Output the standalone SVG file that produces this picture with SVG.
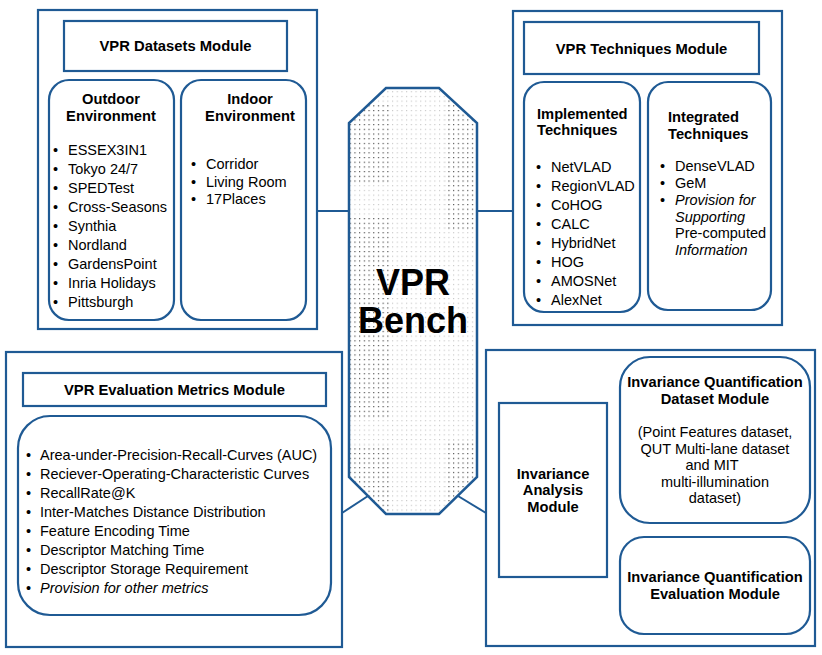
<svg xmlns="http://www.w3.org/2000/svg" width="822" height="655" viewBox="0 0 822 655">
<defs>
<pattern id="dots" width="4.7" height="4.7" patternUnits="userSpaceOnUse">
<rect x="2" y="2" width="1" height="1" fill="#b4b4b4"/>
</pattern>
<pattern id="dotsDark" width="4.7" height="4.7" patternUnits="userSpaceOnUse">
<rect x="2" y="2" width="1" height="1" fill="#333"/>
</pattern>
<clipPath id="octClip">
<polygon points="386,88 439,88 477,123 477,477 439,514 386,514 349,477 349,123"/>
</clipPath>
<style>
.box{fill:#fff;stroke:#1f5a94;stroke-width:2.2}
.ln{fill:none;stroke:#1f5a94;stroke-width:2}
text{font-family:"Liberation Sans",Arial,sans-serif;fill:#000}
.t{font-size:14.8px;font-weight:bold;text-anchor:middle}
.h{font-size:14.7px;font-weight:bold}
.li{font-size:14.5px}
.it{font-style:italic}
.c{text-anchor:middle}
</style>
</defs>
<rect width="822" height="655" fill="#fff"/>

<g id="connectors">
<line class="ln" x1="317" y1="211" x2="350" y2="211"/>
<line class="ln" x1="477" y1="211" x2="513" y2="211"/>
<line class="ln" x1="342" y1="513" x2="368" y2="496"/>
<line class="ln" x1="458" y1="496" x2="486" y2="513"/>
<line class="ln" x1="109" y1="71" x2="109" y2="80"/>
<line class="ln" x1="245" y1="71" x2="245" y2="80"/>
<line class="ln" x1="581" y1="74" x2="581" y2="82"/>
<line class="ln" x1="712" y1="74" x2="712" y2="82"/>
<line class="ln" x1="174" y1="406" x2="174" y2="416"/>
<line class="ln" x1="607" y1="425" x2="620" y2="425"/>
<line class="ln" x1="607" y1="555" x2="620" y2="555"/>
</g>

<g id="vpr-bench">
<polygon points="386,88 439,88 477,123 477,477 439,514 386,514 349,477 349,123" fill="url(#dots)" stroke="none"/>
<g clip-path="url(#octClip)">
<rect x="349" y="105" width="43" height="80" fill="url(#dotsDark)"/>
<rect x="349" y="218" width="43" height="200" fill="url(#dotsDark)"/>
<rect x="349" y="445" width="43" height="70" fill="url(#dotsDark)"/>
<rect x="445" y="100" width="32" height="130" fill="url(#dotsDark)"/>
<rect x="445" y="440" width="32" height="70" fill="url(#dotsDark)"/>
</g>
<polygon points="386,88 439,88 477,123 477,477 439,514 386,514 349,477 349,123" fill="none" stroke="#1f5a94" stroke-width="2.5"/>
<text x="413" y="295" class="c" style="font-size:36px;font-weight:bold">VPR</text>
<text x="413" y="333" class="c" style="font-size:36px;font-weight:bold">Bench</text>
</g>

<g id="datasets-module">
<rect class="box" x="38" y="10" width="279" height="319"/>
<rect class="box" x="64" y="21" width="223" height="50"/>
<text class="t" x="175.5" y="51">VPR Datasets Module</text>
<g id="outdoor">
<rect class="box" x="49" y="80" width="125" height="240" rx="20"/>
<text class="h" x="111" y="104" text-anchor="middle">Outdoor</text>
<text class="h" x="111" y="121" text-anchor="middle">Environment</text>
<text class="li" x="53" y="155">•</text><text class="li" x="68" y="155">ESSEX3IN1</text>
<text class="li" x="53" y="174">•</text><text class="li" x="68" y="174">Tokyo 24/7</text>
<text class="li" x="53" y="193">•</text><text class="li" x="68" y="193">SPEDTest</text>
<text class="li" x="53" y="212">•</text><text class="li" x="68" y="212">Cross-Seasons</text>
<text class="li" x="53" y="231">•</text><text class="li" x="68" y="231">Synthia</text>
<text class="li" x="53" y="250">•</text><text class="li" x="68" y="250">Nordland</text>
<text class="li" x="53" y="269">•</text><text class="li" x="68" y="269">GardensPoint</text>
<text class="li" x="53" y="288">•</text><text class="li" x="68" y="288">Inria Holidays</text>
<text class="li" x="53" y="307">•</text><text class="li" x="68" y="307">Pittsburgh</text>
</g>
<g id="indoor">
<rect class="box" x="181" y="80" width="125" height="240" rx="20"/>
<text class="h" x="250" y="104" text-anchor="middle">Indoor</text>
<text class="h" x="250" y="121" text-anchor="middle">Environment</text>
<text class="li" x="191" y="169">•</text><text class="li" x="206" y="169">Corridor</text>
<text class="li" x="191" y="187">•</text><text class="li" x="206" y="187">Living Room</text>
<text class="li" x="191" y="204">•</text><text class="li" x="206" y="204">17Places</text>
</g>
</g>

<g id="techniques-module">
<rect class="box" x="513" y="11" width="269" height="314"/>
<rect class="box" x="524" y="22" width="235" height="52"/>
<text class="t" x="641.5" y="54">VPR Techniques Module</text>
<g id="implemented">
<rect class="box" x="524" y="82" width="116" height="230" rx="20"/>
<text class="h" x="537" y="119">Implemented</text>
<text class="h" x="537" y="135">Techniques</text>
<text class="li" x="536" y="172">•</text><text class="li" x="551" y="172">NetVLAD</text>
<text class="li" x="536" y="191">•</text><text class="li" x="551" y="191">RegionVLAD</text>
<text class="li" x="536" y="210">•</text><text class="li" x="551" y="210">CoHOG</text>
<text class="li" x="536" y="229">•</text><text class="li" x="551" y="229">CALC</text>
<text class="li" x="536" y="248">•</text><text class="li" x="551" y="248">HybridNet</text>
<text class="li" x="536" y="267">•</text><text class="li" x="551" y="267">HOG</text>
<text class="li" x="536" y="286">•</text><text class="li" x="551" y="286">AMOSNet</text>
<text class="li" x="536" y="305">•</text><text class="li" x="551" y="305">AlexNet</text>
</g>
<g id="integrated">
<rect class="box" x="648" y="82" width="123" height="228" rx="20"/>
<text class="h" x="668" y="122">Integrated</text>
<text class="h" x="668" y="139">Techniques</text>
<text class="li" x="660" y="171">•</text><text class="li" x="675" y="171">DenseVLAD</text>
<text class="li" x="660" y="188">•</text><text class="li" x="675" y="188">GeM</text>
<text class="li" x="660" y="205">•</text><text class="li it" x="675" y="205">Provision for</text>
<text class="li it" x="675" y="222">Supporting</text>
<text class="li" x="675" y="238">Pre-computed</text>
<text class="li it" x="675" y="255">Information</text>
</g>
</g>

<g id="metrics-module">
<rect class="box" x="6" y="352" width="336" height="295"/>
<rect class="box" x="23" y="373" width="303" height="33"/>
<text class="t" x="174.5" y="395">VPR Evaluation Metrics Module</text>
<g id="metrics-list">
<rect class="box" x="18" y="416" width="313" height="199" rx="32"/>
<text class="li" x="26" y="460">•</text><text class="li" x="40" y="460">Area-under-Precision-Recall-Curves (AUC)</text>
<text class="li" x="26" y="479">•</text><text class="li" x="40" y="479">Reciever-Operating-Characteristic Curves</text>
<text class="li" x="26" y="498">•</text><text class="li" x="40" y="498">RecallRate@K</text>
<text class="li" x="26" y="517">•</text><text class="li" x="40" y="517">Inter-Matches Distance Distribution</text>
<text class="li" x="26" y="536">•</text><text class="li" x="40" y="536">Feature Encoding Time</text>
<text class="li" x="26" y="555">•</text><text class="li" x="40" y="555">Descriptor Matching Time</text>
<text class="li" x="26" y="574">•</text><text class="li" x="40" y="574">Descriptor Storage Requirement</text>
<text class="li" x="26" y="593">•</text><text class="li it" x="40" y="593">Provision for other metrics</text>
</g>
</g>

<g id="invariance-module">
<rect class="box" x="486" y="350" width="329" height="296"/>
<g id="invariance-analysis">
<rect class="box" x="499" y="403" width="108" height="174"/>
<text class="h c" x="553" y="479">Invariance</text>
<text class="h c" x="553" y="495">Analysis</text>
<text class="h c" x="553" y="512">Module</text>
</g>
<g id="iq-dataset">
<rect class="box" x="620" y="357" width="190" height="166" rx="30"/>
<text class="h c" x="715" y="387">Invariance Quantification</text>
<text class="h c" x="715" y="404">Dataset Module</text>
<text class="li c" x="715" y="437">(Point Features dataset,</text>
<text class="li c" x="715" y="454">QUT Multi-lane dataset</text>
<text class="li c" x="712" y="470">and MIT</text>
<text class="li c" x="715" y="487">multi-illumination</text>
<text class="li c" x="715" y="503">dataset)</text>
</g>
<g id="iq-evaluation">
<rect class="box" x="620" y="537" width="190" height="97" rx="24"/>
<text class="h c" x="715" y="582">Invariance Quantification</text>
<text class="h c" x="715" y="599">Evaluation Module</text>
</g>
</g>
</svg>
